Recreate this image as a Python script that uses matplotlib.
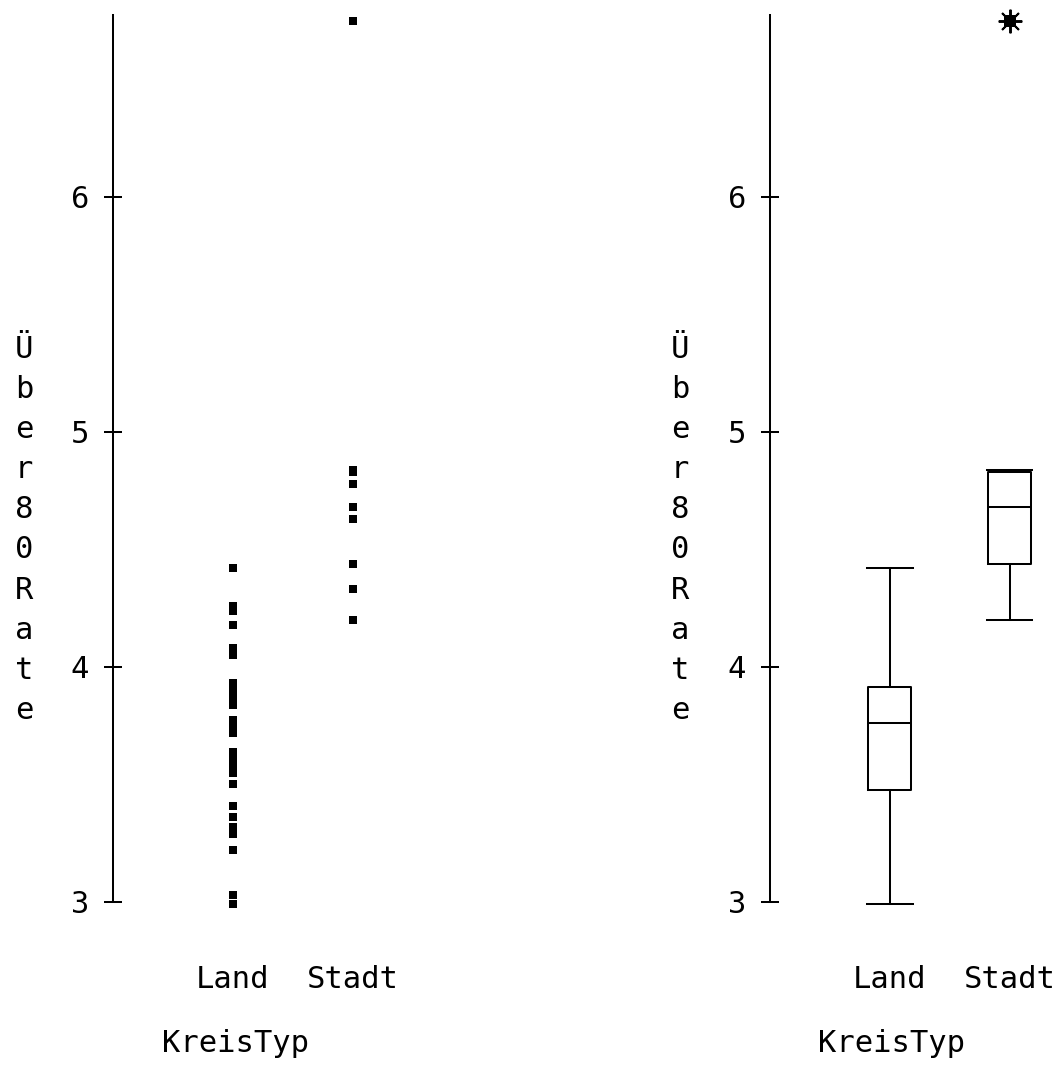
import matplotlib
matplotlib.use("Agg")
import matplotlib.pyplot as plt
import numpy as np

# values (Über80Rate per KreisTyp)
categories = ["Land", "Stadt"]
land = [2.99, 3.03, 3.22, 3.29, 3.32, 3.36, 3.41, 3.50,
        3.55, 3.58, 3.61, 3.64,
        3.72, 3.755, 3.77, 3.775,
        3.84, 3.86, 3.88, 3.90, 3.91, 3.93,
        4.05, 4.08, 4.18, 4.24, 4.26, 4.42]
stadt = [4.20, 4.33, 4.44, 4.63, 4.68, 4.78, 4.83, 4.84, 6.75]
yticks = [3, 4, 5, 6]
ylabel = "Über80Rate"
xlabel = "KreisTyp"

W, H = 1061, 1065
FONT = "DejaVu Sans Mono"
FS = 22
LW = 1.45

plt.rcParams["font.family"] = FONT

fig = plt.figure(figsize=(W / 100, H / 100), dpi=100)


def make_axes(x0):
    # axes placed in pixel terms: spine at x0, y from 15 (top) to 902 (value 3)
    ax = fig.add_axes([x0 / W, (H - 902) / H, 290 / W, (902 - 15) / H])
    ax.set_xlim(-1.0, 1.42)
    ax.set_ylim(3, 3 + 887 / 235)
    for side in ("top", "right", "bottom"):
        ax.spines[side].set_visible(False)
    ax.spines["left"].set_linewidth(LW)
    ax.set_yticks(yticks)
    ax.tick_params(axis="y", direction="inout", length=13.5, width=LW,
                   pad=10.5, labelsize=FS)
    ax.set_xticks(range(len(categories)), categories)
    ax.tick_params(axis="x", length=0, pad=45, labelsize=FS)
    ax.set_xlabel(xlabel, fontsize=FS)
    ax.xaxis.label.set_va("center")
    return ax


def vertical_label(xpix):
    for i, ch in enumerate(ylabel):
        fig.text(xpix / W, 1 - (358 + 40.1 * i) / H, ch, ha="center",
                 va="baseline", fontsize=FS)


# left panel: dot plot
ax1 = make_axes(113)
ax1.xaxis.set_label_coords((235 - 113) / 290, -(1044 - 902) / 887)
for i, vals in enumerate([land, stadt]):
    ax1.plot(np.full(len(vals), i), vals, "s", ms=5.8, color="black",
             mew=0, clip_on=False)
vertical_label(24)

# right panel: box plot
ax2 = make_axes(770)
ax2.xaxis.set_label_coords((892 - 770) / 290, -(1044 - 902) / 887)
line = dict(color="black", linewidth=LW)
bp = ax2.boxplot([land, stadt], positions=range(len(categories)), widths=0.36,
                 capwidths=0.38, whis=1.5, boxprops=line, whiskerprops=line,
                 capprops=line, medianprops=line,
                 flierprops=dict(marker=(8, 2, 0), markersize=17,
                                 markeredgecolor="black", markeredgewidth=1.4))
for key in ("boxes", "whiskers", "caps", "medians", "fliers"):
    for art in bp[key]:
        art.set_clip_on(False)
for fl in bp["fliers"]:
    xs, ys = fl.get_data()
    ax2.plot(xs, ys, "s", ms=9, color="black", mew=0, clip_on=False)
ax2.set_xticks(range(len(categories)), categories)
ax2.set_xlim(-1.0, 1.42)
vertical_label(680)

fig.savefig("out.png", dpi=100)
